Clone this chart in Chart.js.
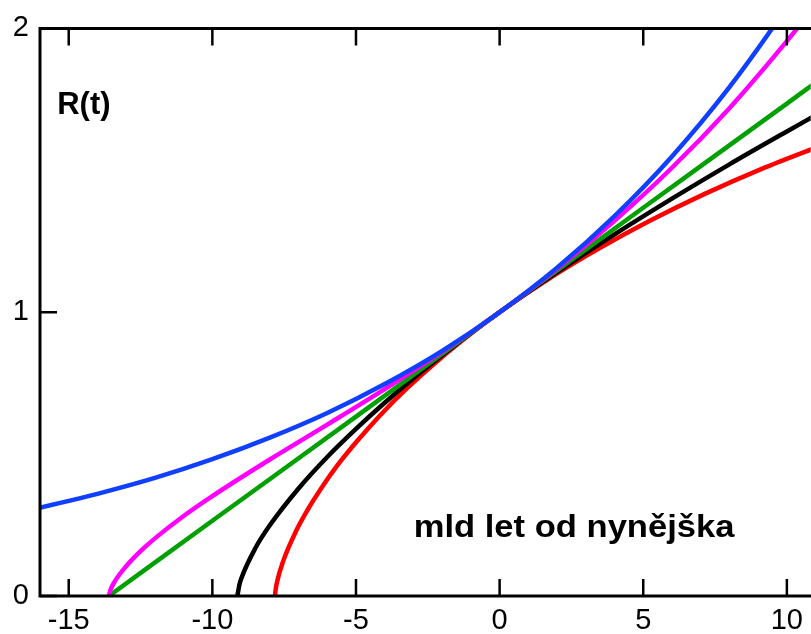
<!DOCTYPE html>
<html>
<head>
<meta charset="utf-8">
<title>R(t)</title>
<script src="https://cdn.jsdelivr.net/npm/chart.js@4.4.1/dist/chart.umd.min.js"></script>
<style>
  html, body { margin: 0; padding: 0; background: #ffffff; }
  #wrap { width: 811px; height: 634px; }
</style>
</head>
<body>
<div id="wrap">
  <canvas id="rChart" width="811" height="634"></canvas>
</div>
<script>
// time in billions of years from now
const blueT = [-16, -14, -12, -10, -8, -6, -4, -2, 0, 2, 4, 6, 8, 10, 11];
const blueR = [0.311, 0.360, 0.416, 0.482, 0.558, 0.645, 0.747, 0.864, 1, 1.157, 1.339, 1.549, 1.793, 2.075, 2.23];

const magentaT = [-13.6, -13.55, -13.4, -13, -12.5, -12, -11, -10, -8, -6, -4, -2, 0, 2, 4, 6, 8, 10, 11];
const magentaR = [0, 0.020, 0.051, 0.105, 0.158, 0.203, 0.282, 0.352, 0.481, 0.604, 0.729, 0.860, 1, 1.153, 1.322, 1.509, 1.719, 1.955, 2.083];

const greenT = [-13.6, -10, -5, 0, 5, 10, 11];
const greenR = [0, 0.265, 0.632, 1, 1.368, 1.735, 1.809];

const blackT = [-9.13, -9.05, -9, -8.5, -8, -7, -6, -5, -4, -3, -2, -1, 0, 2, 4, 6, 8, 10, 11];
const blackR = [0, 0.043, 0.060, 0.169, 0.249, 0.379, 0.490, 0.589, 0.681, 0.767, 0.848, 0.926, 1, 1.141, 1.274, 1.400, 1.521, 1.637, 1.694];

const redT = [-7.82, -7.80, -7.758, -7.538, -7.056, -6.688, -6.221, -5.649, -4.959, -4.148, -3.211, -2.141, -0.936, 0, 1.884, 3.499, 5.246, 7.123, 9.124, 11.24];
const redR = [0, 0.020, 0.045, 0.122, 0.235, 0.303, 0.378, 0.460, 0.546, 0.638, 0.733, 0.830, 0.929, 1, 1.129, 1.227, 1.323, 1.416, 1.505, 1.589];

const xTicks = [-15, -10, -5, 0, 5, 10];
const yTicks = [0, 1, 2];

const yLabel = 'R(t)';
const xLabel = 'mld let od nynějška';

const FONT = '"Liberation Sans", Arial, sans-serif';

function toPoints(ts, rs) {
  return ts.map((t, i) => ({ x: t, y: rs[i] }));
}

function line(ts, rs, color) {
  return {
    data: toPoints(ts, rs),
    borderColor: color,
    borderWidth: 4.5,
    pointRadius: 0,
    fill: false,
    cubicInterpolationMode: 'monotone'
  };
}

// box round the plot with inward tick marks, plus the two texts
const framePlugin = {
  id: 'frame',
  afterDraw(chart) {
    const { ctx, chartArea, scales } = chart;
    const { left, top, right, bottom } = chartArea;
    ctx.save();
    ctx.strokeStyle = '#000';
    ctx.lineWidth = 3;
    ctx.beginPath();
    ctx.moveTo(right + 2, top);
    ctx.lineTo(left, top);
    ctx.lineTo(left, bottom);
    ctx.lineTo(right + 2, bottom);
    ctx.stroke();

    ctx.lineWidth = 2.5;
    ctx.beginPath();
    xTicks.forEach(v => {
      const px = scales.x.getPixelForValue(v);
      ctx.moveTo(px, bottom);
      ctx.lineTo(px, bottom - 17);
      ctx.moveTo(px, top);
      ctx.lineTo(px, top + 17);
    });
    yTicks.forEach(v => {
      const py = scales.y.getPixelForValue(v);
      ctx.moveTo(left, py);
      ctx.lineTo(left + 17, py);
    });
    ctx.stroke();

    ctx.fillStyle = '#000';
    ctx.textBaseline = 'alphabetic';
    ctx.textAlign = 'left';
    ctx.font = 'bold 31px ' + FONT;
    ctx.fillText(yLabel, scales.x.getPixelForValue(-15.4), scales.y.getPixelForValue(1.7));

    // the x caption is a little wider than plain Arial bold
    const lx = scales.x.getPixelForValue(-2.99);
    const ly = scales.y.getPixelForValue(0.207);
    ctx.translate(lx, ly);
    ctx.scale(1.08, 1);
    ctx.font = 'bold 32px ' + FONT;
    ctx.fillText(xLabel, 0, 0);
    ctx.restore();
  }
};

new Chart(document.getElementById('rChart'), {
  type: 'line',
  data: {
    datasets: [
      line(blueT, blueR, '#1040ff'),
      line(magentaT, magentaR, '#ff00ff'),
      line(greenT, greenR, '#00a000'),
      line(blackT, blackR, '#000000'),
      line(redT, redR, '#ff0000')
    ]
  },
  options: {
    responsive: false,
    animation: false,
    layout: { padding: { top: 25, right: 0, left: 0, bottom: 0 } },
    plugins: {
      legend: { display: false },
      tooltip: { enabled: false }
    },
    scales: {
      x: {
        type: 'linear',
        min: -16,
        max: 10.83,
        afterFit: s => { s.height = 38; },
        afterBuildTicks: s => { s.ticks = xTicks.map(v => ({ value: v })); },
        grid: { display: false, drawTicks: false },
        border: { display: false },
        ticks: {
          includeBounds: false,
          padding: 8,
          color: '#000',
          font: { family: FONT, size: 29 }
        }
      },
      y: {
        type: 'linear',
        min: 0,
        max: 2,
        afterFit: s => { s.width = 40; },
        afterBuildTicks: s => { s.ticks = yTicks.map(v => ({ value: v })); },
        grid: { display: false, drawTicks: false },
        border: { display: false },
        ticks: {
          includeBounds: false,
          padding: 11,
          color: '#000',
          font: { family: FONT, size: 29 }
        }
      }
    }
  },
  plugins: [framePlugin]
});
</script>
</body>
</html>
